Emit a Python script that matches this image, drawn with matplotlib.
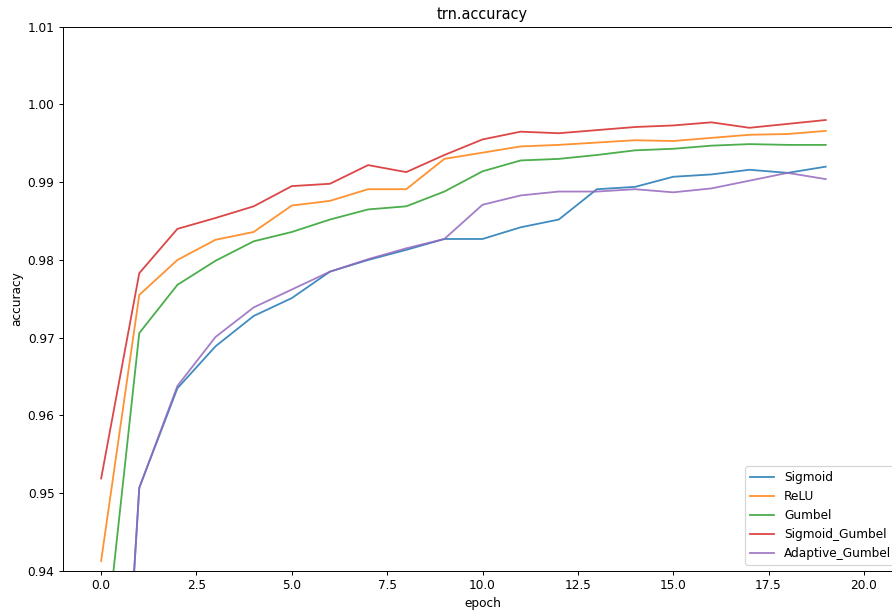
import matplotlib
matplotlib.use("Agg")
import matplotlib.pyplot as plt
import numpy as np

epochs = list(range(20))
sigmoid = [0.8708, 0.9507, 0.9635, 0.9689, 0.9728, 0.9751, 0.9785, 0.9800, 0.9813, 0.9827,
           0.9827, 0.9842, 0.9852, 0.9891, 0.9894, 0.9907, 0.9910, 0.9916, 0.9912, 0.9920]
relu = [0.9413, 0.9755, 0.9800, 0.9826, 0.9836, 0.9870, 0.9876, 0.9891, 0.9891, 0.9930,
        0.9938, 0.9946, 0.9948, 0.9951, 0.9954, 0.9953, 0.9957, 0.9961, 0.9962, 0.9966]
gumbel = [0.9254, 0.9706, 0.9768, 0.9799, 0.9824, 0.9836, 0.9852, 0.9865, 0.9869, 0.9888,
          0.9914, 0.9928, 0.9930, 0.9935, 0.9941, 0.9943, 0.9947, 0.9949, 0.9948, 0.9948]
sigmoid_gumbel = [0.9519, 0.9783, 0.9840, 0.9854, 0.9869, 0.9895, 0.9898, 0.9922, 0.9913, 0.9935,
                  0.9955, 0.9965, 0.9963, 0.9967, 0.9971, 0.9973, 0.9977, 0.9970, 0.9975, 0.9980]
adaptive_gumbel = [0.8708, 0.9507, 0.9638, 0.9701, 0.9739, 0.9762, 0.9785, 0.9801, 0.9815, 0.9827,
                   0.9871, 0.9883, 0.9888, 0.9888, 0.9891, 0.9887, 0.9892, 0.9902, 0.9912, 0.9904]

series = [("Sigmoid", sigmoid), ("ReLU", relu), ("Gumbel", gumbel),
          ("Sigmoid_Gumbel", sigmoid_gumbel), ("Adaptive_Gumbel", adaptive_gumbel)]

DPI = 87
fig = plt.figure(figsize=(893/DPI, 612/DPI), dpi=DPI)
ax = fig.add_axes([63/893, 1-571/612, (902-63)/893, (571-26.7)/612])
for name, vals in series:
    ax.plot(epochs, vals, label=name, alpha=0.85, linewidth=1.5)

ax.set_xlim(-1, 21)
ax.set_ylim(0.94, 1.01)
ax.set_xticks(np.arange(0, 20.1, 2.5))
ax.set_yticks(np.arange(0.94, 1.0101, 0.01))
ax.set_yticklabels([f"{v:.2f}" for v in np.arange(0.94, 1.0101, 0.01)])
ax.set_title("trn.accuracy")
ax.set_xlabel("epoch")
ax.set_ylabel("accuracy")
ax.legend(loc="lower right")
fig.savefig("out.png", dpi=DPI)
